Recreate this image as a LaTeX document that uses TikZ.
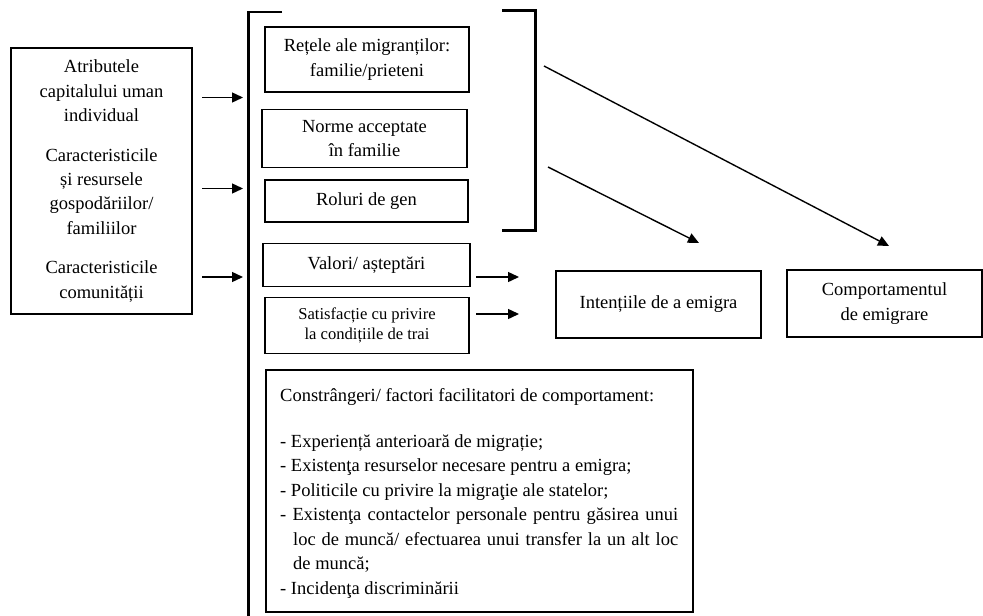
\documentclass[tikz,border=0pt]{standalone}
\usepackage{fontspec}
\setmainfont{Liberation Serif}
\usetikzlibrary{arrows.meta}

\begin{document}
\begin{tikzpicture}[x=1pt,y=-1pt,
  box/.style={draw,line width=1.4pt,inner sep=0pt,align=center,font=\fontsize{18.5}{24.3}\selectfont},
  arr/.style={-{Triangle[length=11pt,width=10pt]},line width=1.4pt},
  brk/.style={line width=2.5pt}]
\useasboundingbox (0,0) rectangle (983,616);
\node [box,minimum width=181pt,minimum height=266pt] (factori) at (101.5,181)
  {Atributele\\capitalului uman\\individual\\[15.5pt]Caracteristicile\\și resursele\\gospodăriilor/\\familiilor\\[15.5pt]Caracteristicile\\comunității};
\node [box,minimum width=204pt,minimum height=65pt] (retele) at (367,59.5) {Rețele ale migranților:\\familie/prieteni};
\node [box,minimum width=205pt,minimum height=58pt] (norme) at (364.5,138.5) {Norme acceptate\\în familie};
\node [box,minimum width=203pt,minimum height=42pt] (roluri) at (366.5,201) {Roluri de gen};
\node [box,minimum width=207pt,minimum height=43pt] (valori) at (366.5,264.8) {Valori/ așteptări};
\node [box,minimum width=204pt,minimum height=56pt,font=\fontsize{16.6}{20}\selectfont] (satisf) at (367,325.5)
  {Satisfacție cu privire\\la condițiile de trai};
\node [box,minimum width=205pt,minimum height=67pt] (intentii) at (658.5,304.5) {Intențiile de a emigra};
\node [box,minimum width=195pt,minimum height=67pt] (comport) at (884.5,303.5) {Comportamentul\\de emigrare};
\node [box,minimum width=427pt,minimum height=242pt] (constr) at (479.5,491) {};
\node [anchor=north west,align=left,inner sep=0pt,font=\fontsize{18.5}{24.5}\selectfont] (constrtext) at (280,388)
  {Constrângeri/ factori facilitatori de comportament:\\[21.5pt]
   - Experiență anterioară de migrație;\\
   - Existenţa resurselor necesare pentru a emigra;\\
   - Politicile cu privire la migraţie ale statelor;\\
   \makebox[398pt][s]{- Existenţa contactelor personale pentru găsirea unui}\\
   \hspace*{13pt}\makebox[385pt][s]{loc de muncă/ efectuarea unui transfer la un alt loc}\\
   \hspace*{13pt}de muncă;\\
   - Incidenţa discriminării};

\draw [brk] (282,12) -- (248.5,12) -- (248.5,616);
\draw [brk] (502,10.5) -- (535.5,10.5) -- (535.5,230.5) -- (502,230.5);

\coordinate (s1) at (202,97.5);  \coordinate (e1) at (243,97.5);
\coordinate (s2) at (202,188.5); \coordinate (e2) at (243,188.5);
\coordinate (s3) at (202,277); \coordinate (e3) at (243,277);
\coordinate (s4) at (476,277); \coordinate (e4) at (519,277);
\coordinate (s5) at (476,314); \coordinate (e5) at (519,314);
\coordinate (s6) at (544,66);  \coordinate (e6) at (889,246);
\coordinate (s7) at (548,167); \coordinate (e7) at (699,243);
\draw [arr] (s1) -- (e1);
\draw [arr] (s2) -- (e2);
\draw [arr] (s3) -- (e3);
\draw [arr] (s4) -- (e4);
\draw [arr] (s5) -- (e5);
\draw [arr] (s6) -- (e6);
\draw [arr] (s7) -- (e7);
\end{tikzpicture}
\end{document}
